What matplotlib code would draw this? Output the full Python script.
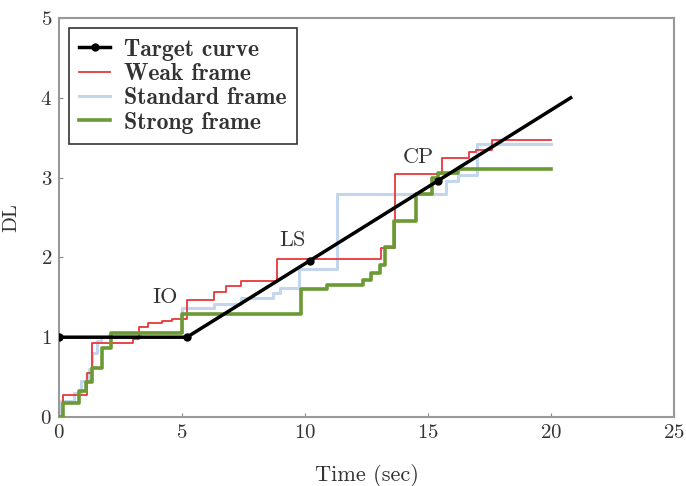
import numpy as np
import matplotlib.pyplot as plt
from matplotlib.font_manager import FontProperties

plt.rcParams['font.family'] = 'cmr10'
plt.rcParams['axes.formatter.use_mathtext'] = True
plt.rcParams['axes.unicode_minus'] = False

# Target curve (time, DL)
target_t = [0, 5.2, 10.2, 15.4, 20.8]
target_dl = [1, 1, 1.96, 2.96, 4]

# Weak frame (step, post)
weak_t = [0, 0.15, 1.15, 1.35, 3.0, 3.25, 3.6, 4.2, 4.6, 5.2, 6.3, 6.8, 7.4,
          8.85, 13.1, 13.65, 15.55, 16.65, 16.95, 17.6, 20.0]
weak_dl = [0, 0.28, 0.55, 0.93, 0.98, 1.13, 1.18, 1.20, 1.23, 1.46, 1.57, 1.64,
           1.71, 1.98, 2.12, 3.04, 3.25, 3.32, 3.35, 3.47, 3.47]

# Standard frame
std_t = [0, 0.1, 0.6, 0.9, 1.2, 1.35, 1.55, 1.7, 2.05, 3.3, 5.0, 6.3, 7.4,
         8.7, 9.0, 9.75, 11.3, 15.75, 16.2, 17.0, 20.0]
std_dl = [0, 0.2, 0.3, 0.45, 0.6, 0.8, 0.95, 1.0, 1.03, 1.07, 1.37, 1.42, 1.49,
          1.55, 1.62, 1.86, 2.79, 2.96, 3.03, 3.42, 3.42]

# Strong frame
strong_t = [0, 0.15, 0.8, 1.1, 1.35, 1.75, 2.1, 5.0, 9.85, 10.9, 12.35, 12.7,
            13.05, 13.25, 13.6, 14.5, 15.15, 15.4, 16.2, 20.0]
strong_dl = [0, 0.18, 0.32, 0.44, 0.61, 0.86, 1.05, 1.29, 1.61, 1.66, 1.72, 1.80,
             1.90, 2.13, 2.46, 2.79, 3.00, 3.06, 3.11, 3.11]

fig = plt.figure(figsize=(6.86, 4.86), dpi=100)
ax = fig.add_axes([59 / 686, 1 - 417 / 486, 615 / 686, 399 / 486])

ax.plot(target_t, target_dl, color='black', lw=2.5, marker='o', ms=5,
        markevery=[0, 1, 2, 3], zorder=5, label='Target curve')
ax.step(weak_t, weak_dl, where='post', color='#e8373c', lw=1.3, label='Weak frame', zorder=3)
ax.step(std_t, std_dl, where='post', color='#c4d6ee', lw=2.2, label='Standard frame', zorder=2)
ax.step(strong_t, strong_dl, where='post', color='#6b9a35', lw=2.6, label='Strong frame', zorder=4)

ax.text(4.3, 1.5, 'IO', fontsize=16, ha='center', va='center', color='#333333')
ax.text(9.5, 2.22, 'LS', fontsize=16, ha='center', va='center', color='#333333')
ax.text(14.6, 3.26, 'CP', fontsize=16, ha='center', va='center', color='#333333')

ax.set_xlim(0, 25)
ax.set_ylim(0, 5)
ax.set_xticks([0, 5, 10, 15, 20, 25])
ax.set_yticks([0, 1, 2, 3, 4, 5])
ax.tick_params(direction='in', length=3, color='#888888', labelsize=15, pad=5,
               labelcolor='#333333')
for s in ax.spines.values():
    s.set_color('#999999')
    s.set_linewidth(1.5)

ax.set_xlabel('Time (sec)', fontsize=16, labelpad=16, color='#333333')
ax.set_ylabel('DL', fontsize=15, labelpad=14, color='#333333')

leg = ax.legend(loc='upper left', prop=FontProperties(family='cmb10', size=17),
                fancybox=False, edgecolor='#333333', framealpha=1,
                handlelength=1.3, handletextpad=0.6, borderpad=0.45,
                labelspacing=0.1, borderaxespad=0,
                bbox_to_anchor=(0.016, 0.975))
leg.get_frame().set_linewidth(1.2)
for t in leg.get_texts():
    t.set_color('#333333')

fig.savefig('out.png', dpi=100)
